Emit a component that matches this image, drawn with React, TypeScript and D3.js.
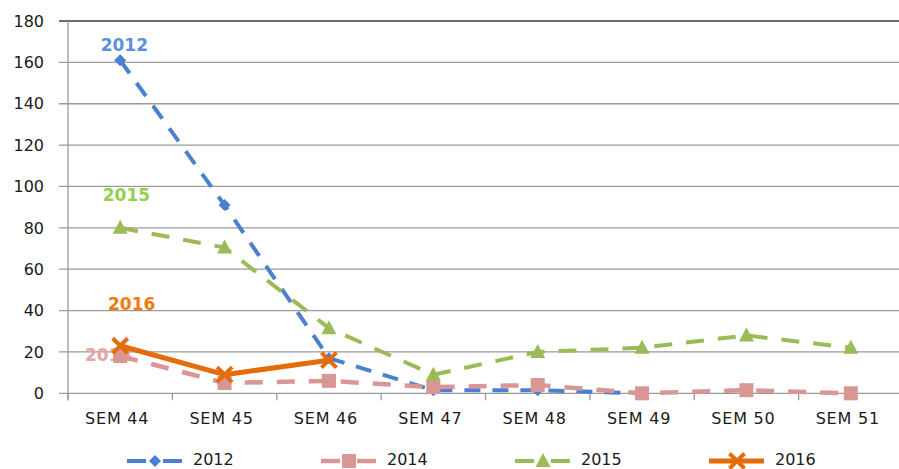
import React from "react";
import * as d3 from "d3";

const categories = ["SEM 44", "SEM 45", "SEM 46", "SEM 47", "SEM 48", "SEM 49", "SEM 50", "SEM 51"];
const yTicks = [0, 20, 40, 60, 80, 100, 120, 140, 160, 180];

const values2012 = [161, 91, 17, 1.5, 1.5, 0];
const values2014 = [18, 5, 6, 3, 4, 0, 1.5, 0];
const values2015 = [80, 70.5, 31.5, 9, 20, 22, 28, 22];
const values2016 = [23, 9, 16];

const seriesNames = ["2012", "2014", "2015", "2016"];
// data labels: value-space position (category index offset, value)
const labelOffsets = [0.04, -0.11, 0.06, 0.11];
const labelValues = [165.5, 15.4, 92.9, 40.4];

const W = 899;
const H = 469;

const styles = [
  { color: "#4A80D2", label: "#5B90E0", dash: "16,12", width: 4, marker: "diamond" },
  { color: "#D99694", label: "#E5A3A1", dash: "18,14", width: 4.5, marker: "square" },
  { color: "#9BBB59", label: "#92D050", dash: "18,14", width: 4, marker: "triangle" },
  { color: "#E46C0A", label: "#F07A10", dash: null, width: 5, marker: "x" },
];

function Marker({ type, x, y, color }: { type: string; x: number; y: number; color: string }) {
  if (type === "diamond") {
    const s = 6;
    return <path d={`M${x},${y - s}L${x + s},${y}L${x},${y + s}L${x - s},${y}Z`} fill={color} />;
  }
  if (type === "square") {
    const s = 7;
    return <rect x={x - s} y={y - s} width={2 * s} height={2 * s} fill={color} />;
  }
  if (type === "triangle") {
    return <path d={`M${x},${y - 8}L${x + 7.5},${y + 6}L${x - 7.5},${y + 6}Z`} fill={color} />;
  }
  const s = 7.5;
  return (
    <path
      d={`M${x - s},${y - s}L${x + s},${y + s}M${x - s},${y + s}L${x + s},${y - s}`}
      stroke={color}
      strokeWidth={4}
      fill="none"
    />
  );
}

export default function App() {
  const left = 68;
  const x = d3.scaleBand<string>().domain(categories).range([left, 903]);
  const y = d3.scaleLinear().domain([0, 180]).range([393.3, 21]);
  const cx = (i: number) => (x(categories[i]) as number) + x.bandwidth() / 2;

  const allSeries = [values2012, values2014, values2015, values2016];
  const line = d3
    .line<number>()
    .x((_, i) => cx(i))
    .y((d) => y(d));

  const font = "'DejaVu Sans', Verdana, sans-serif";
  const gridColor = "#9a9a9a";
  const legendX = d3.scaleLinear().domain([0, 1]).range([127, 321]);
  const legendY = 461;

  return (
    <svg
      width={W}
      height={H}
      style={{ position: "absolute", left: 0, top: 0, background: "#fff" }}
      fontFamily={font}
    >
      {/* gridlines */}
      {yTicks.map((t) => (
        <g key={t}>
          <line
            x1={left - 9}
            x2={W}
            y1={y(t)}
            y2={y(t)}
            stroke={t === 180 ? "#3a3a3a" : gridColor}
            strokeWidth={t === 180 ? 1.6 : 1.3}
          />
          <text x={44} y={y(t)} dy="0.36em" textAnchor="end" fontSize={16} fill="#1a1a1a">
            {t}
          </text>
        </g>
      ))}
      {/* y axis */}
      <line x1={left} x2={left} y1={y(180)} y2={y(0) + 7} stroke={gridColor} strokeWidth={1.3} />
      {/* x ticks */}
      {categories.map((c, i) => (
        <g key={c}>
          <line
            x1={x(c) as number}
            x2={x(c) as number}
            y1={y(0)}
            y2={y(0) + 7}
            stroke={gridColor}
            strokeWidth={1.3}
          />
          <text x={cx(i) - 3} y={424} textAnchor="middle" fontSize={16} letterSpacing={0.8} fill="#1a1a1a">
            {c}
          </text>
        </g>
      ))}
      {/* data labels */}
      {seriesNames.map((n, i) => (
        <text
          key={n}
          x={cx(0) + labelOffsets[i] * x.bandwidth()}
          y={y(labelValues[i])}
          textAnchor="middle"
          fontSize={17}
          fontWeight="bold"
          fill={styles[i].label}
        >
          {n}
        </text>
      ))}
      {/* series */}
      {allSeries.map((vals, si) => (
        <g key={si}>
          <path
            d={line(vals) as string}
            fill="none"
            stroke={styles[si].color}
            strokeWidth={styles[si].width}
            strokeDasharray={styles[si].dash ?? undefined}
            strokeLinejoin="round"
          />
          {vals.map((v, i) => (
            <Marker key={i} type={styles[si].marker} x={cx(i)} y={y(v)} color={styles[si].color} />
          ))}
        </g>
      ))}
      {/* legend */}
      {seriesNames.map((n, i) => {
        const lx = legendX(i);
        const st = styles[i];
        return (
          <g key={n}>
            <line
              x1={lx}
              x2={lx + 55}
              y1={legendY}
              y2={legendY}
              stroke={st.color}
              strokeWidth={st.width}
              strokeDasharray={st.dash ? "19,17" : undefined}
            />
            <Marker type={st.marker} x={lx + 28} y={legendY} color={st.color} />
            <text x={lx + 66} y={465} fontSize={16} fill="#1a1a1a">
              {n}
            </text>
          </g>
        );
      })}
    </svg>
  );
}
